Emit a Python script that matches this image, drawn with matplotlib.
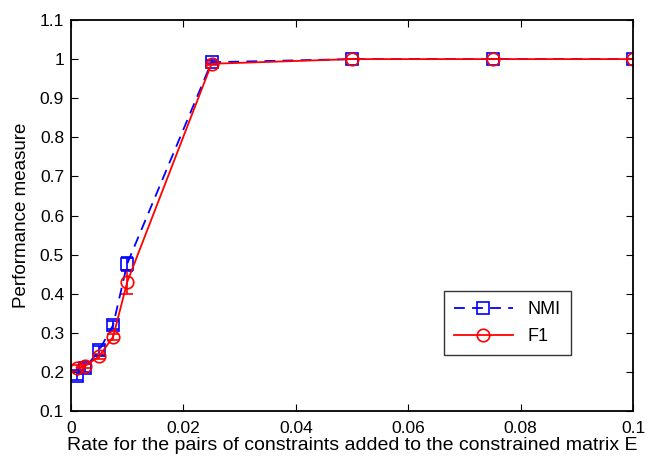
import matplotlib
matplotlib.use("Agg")
import matplotlib.pyplot as plt
from matplotlib.lines import Line2D
from matplotlib.ticker import FuncFormatter

plt.rcParams["font.family"] = ["Liberation Sans", "DejaVu Sans"]

rates = [0.001, 0.0025, 0.005, 0.0075, 0.01, 0.025, 0.05, 0.075, 0.1]
nmi = [0.19, 0.21, 0.255, 0.32, 0.477, 0.992, 1.0, 1.0, 1.0]
nmi_err = [0.012, 0.01, 0.012, 0.01, 0.018, 0.005, 0.0, 0.0, 0.0]
f1 = [0.21, 0.215, 0.24, 0.29, 0.43, 0.988, 1.0, 1.0, 1.0]
f1_err = [0.008, 0.006, 0.006, 0.008, 0.03, 0.004, 0.0, 0.0, 0.0]

fig = plt.figure(figsize=(6.48, 4.59), dpi=100)
ax = fig.add_axes([0.1096, 0.1046, 0.8674, 0.8518])

ax.errorbar(rates, nmi, yerr=nmi_err, color="blue", linestyle="--", linewidth=1.3,
            marker="s", markersize=9, markerfacecolor="none", markeredgewidth=1.2,
            capsize=4, elinewidth=1.2, dashes=(6, 4))
ax.errorbar(rates, f1, yerr=f1_err, color="red", linestyle="-", linewidth=1.3,
            marker="o", markersize=9, markerfacecolor="none", markeredgewidth=1.2,
            capsize=4, elinewidth=1.2)

ax.set_xlim(0, 0.1)
ax.set_ylim(0.1, 1.1)
ax.set_xticks([0, 0.02, 0.04, 0.06, 0.08, 0.1])
ax.set_yticks([0.1, 0.2, 0.3, 0.4, 0.5, 0.6, 0.7, 0.8, 0.9, 1.0, 1.1])
fmt = FuncFormatter(lambda v, p: ("%g" % round(v, 4)))
ax.xaxis.set_major_formatter(fmt)
ax.yaxis.set_major_formatter(fmt)
ax.tick_params(direction="in", top=True, right=True, labelsize=12.5, length=5,
               width=0.8, pad=5)
ax.tick_params(axis="x", pad=7)
for s in ax.spines.values():
    s.set_linewidth(1.3)

ax.set_xlabel("Rate for the pairs of constraints added to the constrained matrix E",
              fontsize=14, labelpad=1)
ax.set_ylabel("Performance measure", fontsize=13.5, labelpad=7)

handles = [
    Line2D([], [], color="blue", linestyle="--", dashes=(6, 4), linewidth=1.3,
           marker="s", markersize=9, markerfacecolor="none", markeredgewidth=1.2),
    Line2D([], [], color="red", linestyle="-", linewidth=1.3,
           marker="o", markersize=9, markerfacecolor="none", markeredgewidth=1.2),
]
leg = ax.legend(handles, ["NMI", "F1"], loc="upper left",
                bbox_to_anchor=(0.663, 0.306), fontsize=13, frameon=True,
                fancybox=False, edgecolor="black", handlelength=3.3,
                borderpad=0.55, labelspacing=0.55, handletextpad=0.8,
                borderaxespad=0)
leg.get_frame().set_linewidth(1.0)

fig.savefig("out.png", dpi=100)
